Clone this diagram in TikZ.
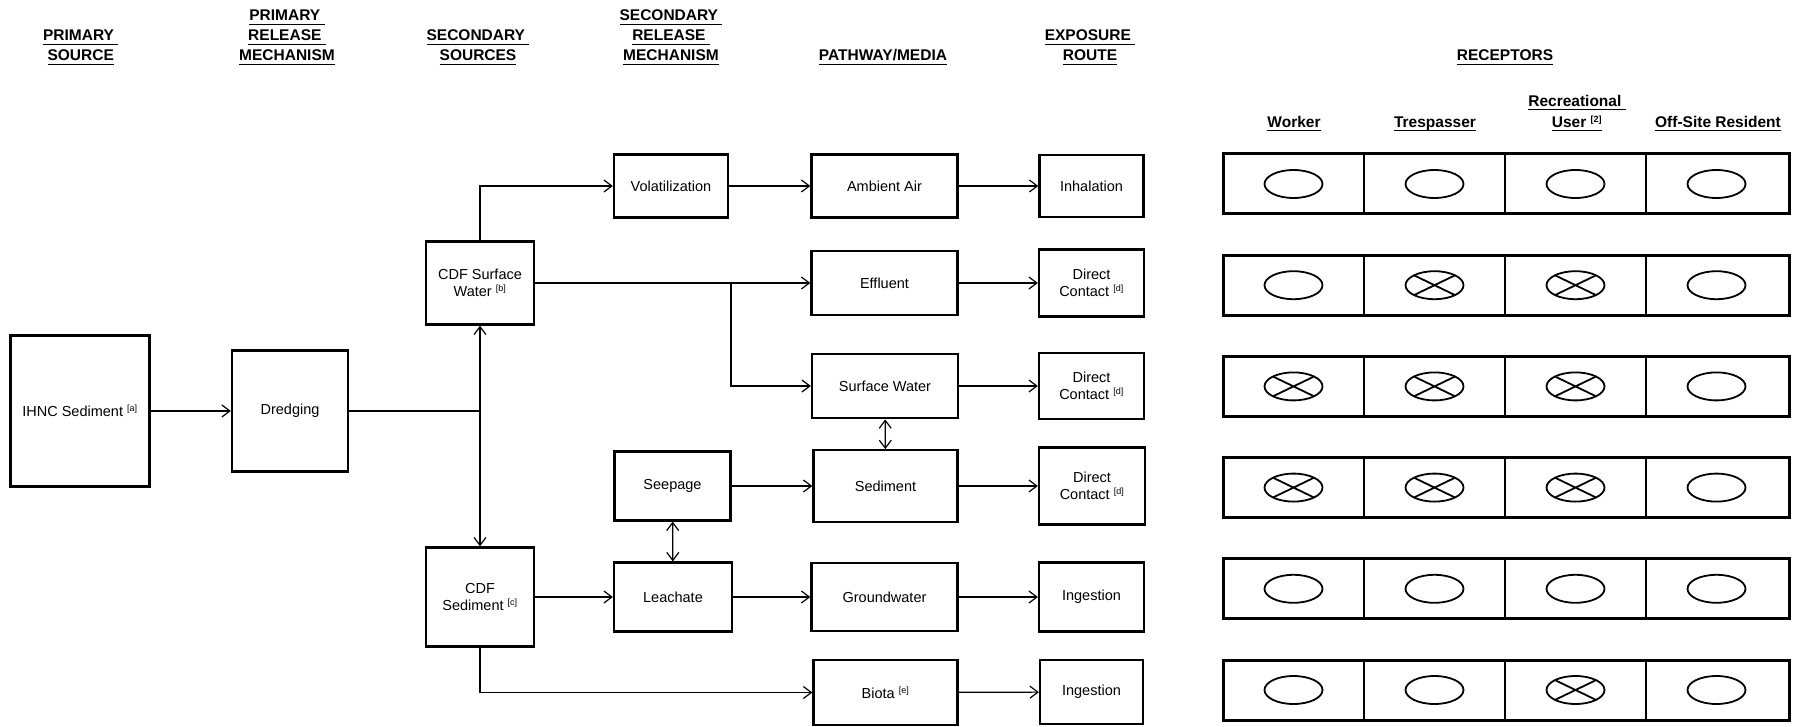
\documentclass[tikz,border=0pt]{standalone}
\usepackage{fontspec}
\setmainfont{Liberation Sans}
\usetikzlibrary{arrows.meta}
\tikzstyle{box}=[draw=black,line width=2.2pt,inner sep=0pt,align=center,font=\fontsize{14.5}{17}\selectfont]
\tikzstyle{hdr}=[inner sep=0pt,align=center,anchor=south,font=\bfseries\fontsize{15.5}{20}\selectfont]
\tikzstyle{arr}=[line width=1.2pt,-{Straight Barb[length=8pt,width=12pt]}]
\tikzstyle{dblarr}=[line width=1.2pt,{Straight Barb[length=8pt,width=12pt]}-{Straight Barb[length=8pt,width=12pt]}]
\tikzstyle{recep}=[line width=1.8pt]
\newcommand{\fnref}[1]{\textsuperscript{\fontsize{9}{9}\selectfont[#1]}}
\newcommand{\hul}[1]{\underline{\raisebox{0pt}[\height][2pt]{#1}}}

\begin{document}
\begin{tikzpicture}[x=1pt,y=-1pt]
\useasboundingbox (0,0) rectangle (1807,727);

% column headings
\node[hdr] (hsrc) at (80.7,65) {\hul{PRIMARY\ }\\\hul{SOURCE}};
\node[hdr] (hprm) at (287,65) {\hul{PRIMARY\ }\\\hul{RELEASE\ }\\\hul{MECHANISM}};
\node[hdr] (hsec) at (478,65) {\hul{SECONDARY\ }\\\hul{SOURCES}};
\node[hdr] (hsrm) at (671,65) {\hul{SECONDARY\ }\\\hul{RELEASE\ }\\\hul{MECHANISM}};
\node[hdr] (hpath) at (883,65) {\hul{PATHWAY/MEDIA}};
\node[hdr] (hexp) at (1090,65) {\hul{EXPOSURE\ }\\\hul{ROUTE}};
\node[hdr] (hrec) at (1505,65) {\hul{RECEPTORS}};
\node[hdr] (hwork) at (1294,131.5) {\hul{Worker}};
\node[hdr] (htres) at (1435,131.5) {\hul{Trespasser}};
\node[hdr] (hrecu) at (1577,131.5) {\hul{Recreational\ }\\[1pt]\hul{User \textsuperscript{\fontsize{9}{9}\selectfont[2]}}};
\node[hdr] (hoff) at (1718,131.5) {\hul{Off-Site Resident}};

% sources and release mechanisms
\node[box,minimum width=139pt,minimum height=151pt] (src) at (80,411) {IHNC Sediment \fnref{a}};
\node[box,minimum width=116pt,minimum height=121pt] (dredge) at (290,411) {Dredging};
\node[box,minimum width=108pt,minimum height=83pt] (cdfsw) at (480,283) {CDF Surface\\Water \fnref{b}};
\node[box,minimum width=108pt,minimum height=99pt] (cdfsed) at (480,597) {CDF\\Sediment \fnref{c}};
\node[box,minimum width=114pt,minimum height=63pt] (volat) at (671,186) {Volatilization};
\node[box,minimum width=116pt,minimum height=69pt] (seep) at (672.5,486) {Seepage};
\node[box,minimum width=118pt,minimum height=69pt] (leach) at (673,597) {Leachate};

% pathways / media
\node[box,minimum width=146pt,minimum height=63pt] (air) at (884.5,186) {Ambient Air};
\node[box,minimum width=146pt,minimum height=64.5pt] (effl) at (884.5,283) {Effluent};
\node[box,minimum width=146pt,minimum height=64.5pt] (sw) at (885,386) {Surface Water};
\node[box,minimum width=144pt,minimum height=71.5pt] (sed) at (885.5,486) {Sediment};
\node[box,minimum width=146pt,minimum height=68pt] (gw) at (884.5,597) {Groundwater};
\node[box,minimum width=144pt,minimum height=64.5pt] (biota) at (885.5,692.5) {Biota \fnref{e}};

% exposure routes
\node[box,minimum width=104pt,minimum height=62pt] (inh) at (1091.5,186) {Inhalation};
\node[box,minimum width=105pt,minimum height=67pt] (dcon1) at (1091.5,283) {Direct\\Contact \fnref{d}};
\node[box,minimum width=105pt,minimum height=66pt] (dcon2) at (1091.5,386) {Direct\\Contact \fnref{d}};
\node[box,minimum width=106pt,minimum height=77pt] (dcon3) at (1092,486) {Direct\\Contact \fnref{d}};
\node[box,minimum width=105pt,minimum height=69pt] (ing1) at (1091.5,597) {Ingestion};
\node[box,minimum width=103pt,minimum height=64.5pt] (ing2) at (1091.5,692) {Ingestion};

% connectors
\coordinate (jdr) at (480,411);
\coordinate (jsw) at (731,283);
\draw[arr] (src) -- (dredge);
\draw[line width=1.2pt] (dredge) -- (jdr);
\draw[dblarr] (cdfsw) -- (cdfsed);
\draw[arr] (cdfsw.north) |- (volat);
\draw[arr] (cdfsw) -- (effl);
\draw[arr] (jsw) |- (sw);
\draw[arr] (cdfsed) -- (leach);
\draw[arr] (cdfsed.south) |- (biota);
\draw[dblarr] (seep) -- (leach);
\draw[dblarr] (sw) -- (sed);
\draw[arr] (volat) -- (air);
\draw[arr] (seep) -- (sed);
\draw[arr] (leach) -- (gw);
\draw[arr] (air) -- (inh);
\draw[arr] (effl) -- (dcon1);
\draw[arr] (sw) -- (dcon2);
\draw[arr] (sed) -- (dcon3);
\draw[arr] (gw) -- (ing1);
\draw[arr] (biota) -- (ing2);

% receptor table, 1 = complete pathway
\foreach \rw/\mw/\mt/\mr/\mo in {0/0/0/0/0,1/0/1/1/0,2/1/1/1/0,3/1/1/1/0,4/0/0/0/0,5/0/0/1/0}{
  \pgfmathsetmacro{\ytop}{154+101.2*\rw}
  \draw[line width=3pt] (1223,\ytop) rectangle (1789,\ytop+60);
  \foreach \col in {1,2,3}
    \draw[line width=1.3pt] (1223+141*\col,\ytop) -- (1223+141*\col,\ytop+60);
  \foreach \col/\mk in {0/\mw,1/\mt,2/\mr,3/\mo}{
    \draw[recep] (1293.5+141*\col,\ytop+30) ellipse (29 and 14);
    \ifnum\mk=1
      \draw[recep] (1273+141*\col,\ytop+20.1) -- (1314+141*\col,\ytop+39.9)
                   (1273+141*\col,\ytop+39.9) -- (1314+141*\col,\ytop+20.1);
    \fi
  }
}
\end{tikzpicture}
\end{document}
